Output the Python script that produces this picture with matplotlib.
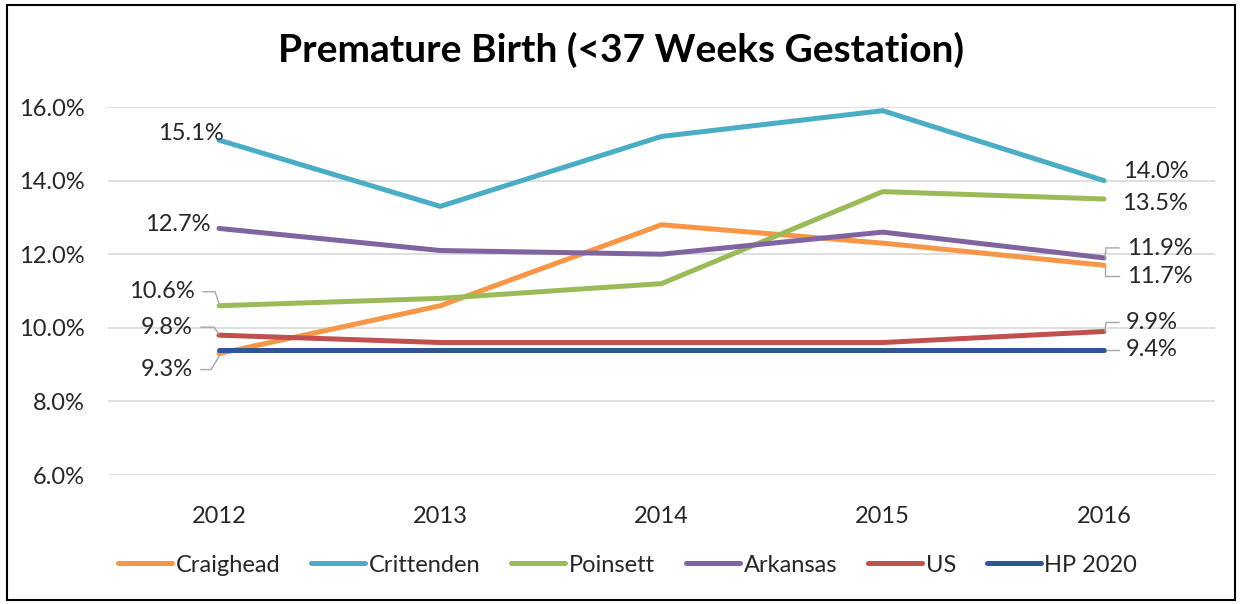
import matplotlib
matplotlib.use("Agg")
import matplotlib.pyplot as plt
from matplotlib.lines import Line2D
from matplotlib.patches import Rectangle
from matplotlib.transforms import Affine2D, IdentityTransform

plt.rcParams['font.family'] = ['Lato', 'DejaVu Sans']

# Datos: porcentaje de nacimientos prematuros por año
years = ["2012", "2013", "2014", "2015", "2016"]
craighead = [9.3, 10.6, 12.8, 12.3, 11.7]
crittenden = [15.1, 13.3, 15.2, 15.9, 14.0]
poinsett = [10.6, 10.8, 11.2, 13.7, 13.5]
arkansas = [12.7, 12.1, 12.0, 12.6, 11.9]
us = [9.8, 9.6, 9.6, 9.6, 9.9]
hp2020 = [9.4, 9.4, 9.4, 9.4, 9.4]

series = [
    ("Craighead", craighead, "#F79646"),
    ("Crittenden", crittenden, "#4BACC6"),
    ("Poinsett", poinsett, "#9BBB59"),
    ("Arkansas", arkansas, "#8064A2"),
    ("US", us, "#C0504D"),
    ("HP 2020", hp2020, "#2E5597"),
]

# posicion de las etiquetas (pixeles respecto al punto) y lineas guia
# primer año: texto a la izquierda, ultimo año: texto a la derecha
first_labels = {
    "Crittenden": ((5, 7), None),
    "Arkansas": ((-9, 4), None),
    "Poinsett": ((-24, 14), [(-16, 14), (-4, 14), (0, 2)]),
    "US": ((-26, 8), [(-18, 8), (-5, 8), (0, 1)]),
    "Craighead": ((-26, -16), [(-18, -16), (-8, -16), (0, -3)]),
}
last_labels = {
    "Crittenden": ((19, 9), None),
    "Poinsett": ((18, -5), None),
    "Arkansas": ((23, 9), [(1, 0), (2, 10), (15, 10)]),
    "Craighead": ((23, -11), [(1, -2), (1, -11), (15, -11)]),
    "US": ((22, 9), [(1, 0), (2, 9), (15, 9)]),
    "HP 2020": ((22, 0), [(2, 0), (15, 0)]),
}

fs = 17
txt_color = "#262626"

fig = plt.figure(figsize=(12.43, 6.04), dpi=100)
ax = fig.add_axes([108.4 / 1243, 129 / 604, 1106.2 / 1243, 368 / 604])

x = list(range(len(years)))
for name, vals, color in series:
    ax.plot(x, vals, color=color, lw=3.6, solid_capstyle="round",
            solid_joinstyle="round", label=name, zorder=3)

ax.set_xlim(-0.5, len(years) - 0.5)
ax.set_ylim(6, 16)
ax.set_yticks([6, 8, 10, 12, 14, 16])
ax.set_yticklabels(["%.1f%%" % v for v in [6, 8, 10, 12, 14, 16]])
ax.set_xticks(x)
ax.set_xticklabels(years)
ax.tick_params(axis="both", length=0, labelsize=fs, labelcolor=txt_color)
ax.tick_params(axis="y", pad=17)
ax.tick_params(axis="x", pad=22)
ax.grid(axis="y", color="#D9D9D9", lw=1.2, zorder=0)
for s in ax.spines.values():
    s.set_visible(False)

# etiquetas de datos con lineas guia
def label_point(i, v, offset, leader, ha):
    ax.annotate("%.1f%%" % v, (i, v), xytext=offset, textcoords="offset pixels",
                ha=ha, va="center", fontsize=fs, color=txt_color, zorder=5)
    if leader is not None:
        px, py = ax.transData.transform((i, v))
        t = Affine2D().translate(px, py) + IdentityTransform()
        fig.add_artist(Line2D([p[0] for p in leader], [p[1] for p in leader],
                              color="#A6A6A6", lw=1.0, transform=t, zorder=4))

for name, vals, color in series:
    if name in first_labels:
        off, lead = first_labels[name]
        label_point(0, vals[0], off, lead, "right")
    if name in last_labels:
        off, lead = last_labels[name]
        label_point(len(vals) - 1, vals[-1], off, lead, "left")

fig.text(0.5, 1 - 50 / 604, "Premature Birth (<37 Weeks Gestation)",
         ha="center", va="center", fontsize=28, fontweight="bold", color="black")

fig.legend(loc="center", bbox_to_anchor=(0.5 + 6 / 1243, 1 - 565 / 604), ncol=6,
           frameon=False, fontsize=fs, handlelength=2.3, handletextpad=0.15,
           columnspacing=1.3, labelcolor=txt_color)

# marco del grafico
fig.add_artist(Rectangle((7 / 1243, 4 / 604), 1228 / 1243, 595 / 604,
                         transform=fig.transFigure, fill=False,
                         edgecolor="black", lw=1.5))

fig.savefig("out.png", dpi=100)
